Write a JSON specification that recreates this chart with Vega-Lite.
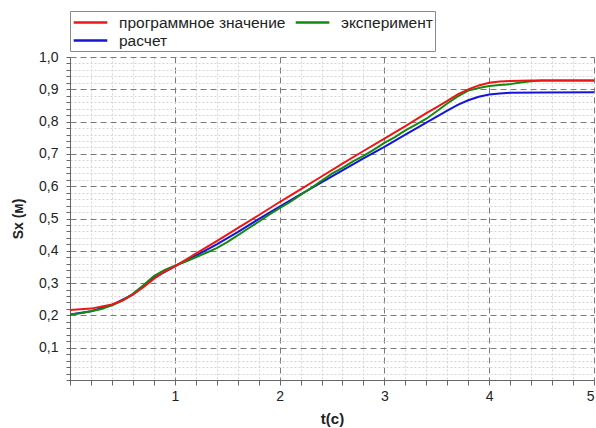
{
  "$schema": "https://vega.github.io/schema/vega-lite/v6.json",
  "width": 524,
  "height": 323,
  "autosize": {"type": "none"},
  "padding": {"left": 70, "top": 57, "right": 2, "bottom": 48},
  "background": "white",
  "config": {
    "view": {"stroke": null},
    "font": "Liberation Sans"
  },
  "datasets": {
    "curves": [
      {"series": "расчет", "t": 0, "s": 0.203},
      {"series": "расчет", "t": 0.2, "s": 0.213},
      {"series": "расчет", "t": 0.4, "s": 0.232},
      {"series": "расчет", "t": 0.6, "s": 0.265},
      {"series": "расчет", "t": 0.8, "s": 0.316},
      {"series": "расчет", "t": 1.0, "s": 0.352},
      {"series": "расчет", "t": 1.2, "s": 0.385},
      {"series": "расчет", "t": 1.4, "s": 0.420},
      {"series": "расчет", "t": 1.6, "s": 0.458},
      {"series": "расчет", "t": 1.8, "s": 0.498},
      {"series": "расчет", "t": 2.0, "s": 0.537},
      {"series": "расчет", "t": 2.2, "s": 0.575},
      {"series": "расчет", "t": 2.4, "s": 0.612},
      {"series": "расчет", "t": 2.6, "s": 0.649},
      {"series": "расчет", "t": 2.8, "s": 0.686},
      {"series": "расчет", "t": 3.0, "s": 0.722},
      {"series": "расчет", "t": 3.2, "s": 0.760},
      {"series": "расчет", "t": 3.4, "s": 0.797},
      {"series": "расчет", "t": 3.6, "s": 0.834},
      {"series": "расчет", "t": 3.7, "s": 0.852},
      {"series": "расчет", "t": 3.8, "s": 0.866},
      {"series": "расчет", "t": 3.9, "s": 0.877},
      {"series": "расчет", "t": 4.0, "s": 0.884},
      {"series": "расчет", "t": 4.1, "s": 0.887},
      {"series": "расчет", "t": 4.2, "s": 0.889},
      {"series": "расчет", "t": 4.5, "s": 0.890},
      {"series": "расчет", "t": 5.0, "s": 0.891},

      {"series": "эксперимент", "t": 0, "s": 0.203},
      {"series": "эксперимент", "t": 0.1, "s": 0.207},
      {"series": "эксперимент", "t": 0.2, "s": 0.213},
      {"series": "эксперимент", "t": 0.3, "s": 0.220},
      {"series": "эксперимент", "t": 0.4, "s": 0.231},
      {"series": "эксперимент", "t": 0.5, "s": 0.246},
      {"series": "эксперимент", "t": 0.6, "s": 0.267},
      {"series": "эксперимент", "t": 0.7, "s": 0.293},
      {"series": "эксперимент", "t": 0.8, "s": 0.322},
      {"series": "эксперимент", "t": 0.9, "s": 0.340},
      {"series": "эксперимент", "t": 1.0, "s": 0.354},
      {"series": "эксперимент", "t": 1.1, "s": 0.366},
      {"series": "эксперимент", "t": 1.2, "s": 0.380},
      {"series": "эксперимент", "t": 1.3, "s": 0.394},
      {"series": "эксперимент", "t": 1.4, "s": 0.408},
      {"series": "эксперимент", "t": 1.5, "s": 0.427},
      {"series": "эксперимент", "t": 1.6, "s": 0.448},
      {"series": "эксперимент", "t": 1.7, "s": 0.469},
      {"series": "эксперимент", "t": 1.8, "s": 0.490},
      {"series": "эксперимент", "t": 1.9, "s": 0.512},
      {"series": "эксперимент", "t": 2.0, "s": 0.532},
      {"series": "эксперимент", "t": 2.1, "s": 0.551},
      {"series": "эксперимент", "t": 2.2, "s": 0.573},
      {"series": "эксперимент", "t": 2.3, "s": 0.594},
      {"series": "эксперимент", "t": 2.4, "s": 0.617},
      {"series": "эксперимент", "t": 2.5, "s": 0.639},
      {"series": "эксперимент", "t": 2.6, "s": 0.657},
      {"series": "эксперимент", "t": 2.7, "s": 0.677},
      {"series": "эксперимент", "t": 2.8, "s": 0.694},
      {"series": "эксперимент", "t": 2.9, "s": 0.713},
      {"series": "эксперимент", "t": 3.0, "s": 0.734},
      {"series": "эксперимент", "t": 3.1, "s": 0.752},
      {"series": "эксперимент", "t": 3.2, "s": 0.773},
      {"series": "эксперимент", "t": 3.3, "s": 0.791},
      {"series": "эксперимент", "t": 3.4, "s": 0.809},
      {"series": "эксперимент", "t": 3.5, "s": 0.832},
      {"series": "эксперимент", "t": 3.6, "s": 0.856},
      {"series": "эксперимент", "t": 3.7, "s": 0.878},
      {"series": "эксперимент", "t": 3.8, "s": 0.896},
      {"series": "эксперимент", "t": 3.9, "s": 0.904},
      {"series": "эксперимент", "t": 4.0, "s": 0.910},
      {"series": "эксперимент", "t": 4.1, "s": 0.913},
      {"series": "эксперимент", "t": 4.2, "s": 0.916},
      {"series": "эксперимент", "t": 4.3, "s": 0.921},
      {"series": "эксперимент", "t": 4.4, "s": 0.925},
      {"series": "эксперимент", "t": 4.5, "s": 0.927},
      {"series": "эксперимент", "t": 5.0, "s": 0.927},

      {"series": "программное значение", "t": 0, "s": 0.217},
      {"series": "программное значение", "t": 0.2, "s": 0.221},
      {"series": "программное значение", "t": 0.4, "s": 0.234},
      {"series": "программное значение", "t": 0.5, "s": 0.246},
      {"series": "программное значение", "t": 0.6, "s": 0.264},
      {"series": "программное значение", "t": 0.7, "s": 0.287},
      {"series": "программное значение", "t": 0.8, "s": 0.313},
      {"series": "программное значение", "t": 0.9, "s": 0.335},
      {"series": "программное значение", "t": 1.0, "s": 0.352},
      {"series": "программное значение", "t": 1.2, "s": 0.391},
      {"series": "программное значение", "t": 1.4, "s": 0.430},
      {"series": "программное значение", "t": 1.6, "s": 0.470},
      {"series": "программное значение", "t": 1.8, "s": 0.510},
      {"series": "программное значение", "t": 2.0, "s": 0.551},
      {"series": "программное значение", "t": 2.2, "s": 0.590},
      {"series": "программное значение", "t": 2.4, "s": 0.630},
      {"series": "программное значение", "t": 2.6, "s": 0.670},
      {"series": "программное значение", "t": 2.8, "s": 0.709},
      {"series": "программное значение", "t": 3.0, "s": 0.747},
      {"series": "программное значение", "t": 3.2, "s": 0.786},
      {"series": "программное значение", "t": 3.4, "s": 0.826},
      {"series": "программное значение", "t": 3.5, "s": 0.845},
      {"series": "программное значение", "t": 3.6, "s": 0.864},
      {"series": "программное значение", "t": 3.7, "s": 0.884},
      {"series": "программное значение", "t": 3.8, "s": 0.900},
      {"series": "программное значение", "t": 3.9, "s": 0.912},
      {"series": "программное значение", "t": 4.0, "s": 0.920},
      {"series": "программное значение", "t": 4.1, "s": 0.924},
      {"series": "программное значение", "t": 4.2, "s": 0.926},
      {"series": "программное значение", "t": 4.4, "s": 0.927},
      {"series": "программное значение", "t": 5.0, "s": 0.927}
    ]
  },
  "data": {"name": "curves"},
  "encoding": {
    "x": {
      "field": "t",
      "type": "quantitative",
      "scale": {"domain": [0, 5], "nice": false, "zero": false},
      "axis": {
        "title": "t(c)",
        "titleFont": "Liberation Sans",
        "titleFontSize": 15,
        "titleFontWeight": "bold",
        "titleColor": "#222222",
        "titlePadding": 8,
        "values": [0, 0.2, 0.4, 0.6, 0.8, 1, 1.2, 1.4, 1.6, 1.8, 2, 2.2, 2.4, 2.6, 2.8, 3, 3.2, 3.4, 3.6, 3.8, 4, 4.2, 4.4, 4.6, 4.8, 5],
        "labelExpr": "abs(datum.value - round(datum.value)) < 0.001 && datum.value > 0 ? format(datum.value, 'd') : ''",
        "labelOverlap": false,
        "labelFont": "Liberation Sans",
        "labelFontSize": 14,
        "labelColor": "#222222",
        "labelPadding": 4,
        "labelFlush": false,
        "labelAlign": {"condition": {"test": "datum.value > 4.9", "value": "right"}, "value": "center"},
        "domainColor": "#666666",
        "tickColor": "#666666",
        "tickSize": 5,
        "grid": true,
        "gridColor": {"condition": {"test": "abs(datum.value - round(datum.value)) < 0.001", "value": "#7a7a7a"}, "value": "#d4d4d4"},
        "gridDash": {"condition": {"test": "abs(datum.value - round(datum.value)) < 0.001", "value": [6, 4]}, "value": [2, 2]},
        "gridWidth": 1
      }
    },
    "y": {
      "field": "s",
      "type": "quantitative",
      "scale": {"domain": [0, 1], "nice": false},
      "axis": {
        "title": "Sx (м)",
        "titleFont": "Liberation Sans",
        "titleFontSize": 14,
        "titleFontWeight": "bold",
        "titleColor": "#222222",
        "titlePadding": 13,
        "values": [0, 0.02, 0.04, 0.06, 0.08, 0.1, 0.12, 0.14, 0.16, 0.18, 0.2, 0.22, 0.24, 0.26, 0.28, 0.3, 0.32, 0.34, 0.36, 0.38, 0.4, 0.42, 0.44, 0.46, 0.48, 0.5, 0.52, 0.54, 0.56, 0.58, 0.6, 0.62, 0.64, 0.66, 0.68, 0.7, 0.72, 0.74, 0.76, 0.78, 0.8, 0.82, 0.84, 0.86, 0.88, 0.9, 0.92, 0.94, 0.96, 0.98, 1.0],
        "labelExpr": "abs(datum.value * 10 - round(datum.value * 10)) < 0.001 && datum.value > 0 ? replace(format(datum.value, '.1f'), '.', ',') : ''",
        "labelOverlap": false,
        "labelFont": "Liberation Sans",
        "labelFontSize": 14,
        "labelColor": "#222222",
        "labelPadding": 8,
        "labelFlush": false,
        "domainColor": "#666666",
        "tickColor": "#666666",
        "tickSize": 4,
        "grid": true,
        "gridColor": {"condition": {"test": "abs(datum.value * 10 - round(datum.value * 10)) < 0.001", "value": "#7a7a7a"}, "value": "#d4d4d4"},
        "gridDash": {"condition": {"test": "abs(datum.value * 10 - round(datum.value * 10)) < 0.001", "value": [6, 4]}, "value": [2, 2]},
        "gridWidth": 1
      }
    },
    "color": {
      "field": "series",
      "type": "nominal",
      "scale": {
        "domain": ["программное значение", "эксперимент", "расчет"],
        "range": ["#ee1515", "#128a12", "#1414dc"]
      },
      "legend": {
        "title": null,
        "orient": "none",
        "legendX": 0,
        "legendY": -46,
        "columns": 2,
        "direction": "horizontal",
        "symbolType": "M-2.1,0H2.1",
        "symbolSize": 256,
        "symbolOffset": 9,
        "symbolStrokeWidth": 2.5,
        "labelFont": "Liberation Sans",
        "labelFontSize": 15.5,
        "labelLimit": 400,
        "labelColor": "#222222",
        "labelOffset": 19,
        "columnPadding": 4,
        "rowPadding": 0,
        "padding": 2,
        "strokeColor": "#8a8a8a",
        "fillColor": "white"
      }
    }
  },
  "layer": [
    {
      "transform": [{"filter": "datum.series === 'расчет'"}],
      "mark": {"type": "line", "strokeWidth": 2, "clip": true}
    },
    {
      "transform": [{"filter": "datum.series === 'эксперимент'"}],
      "mark": {"type": "line", "strokeWidth": 2, "clip": true}
    },
    {
      "transform": [{"filter": "datum.series === 'программное значение'"}],
      "mark": {"type": "line", "strokeWidth": 2, "clip": true}
    }
  ]
}
